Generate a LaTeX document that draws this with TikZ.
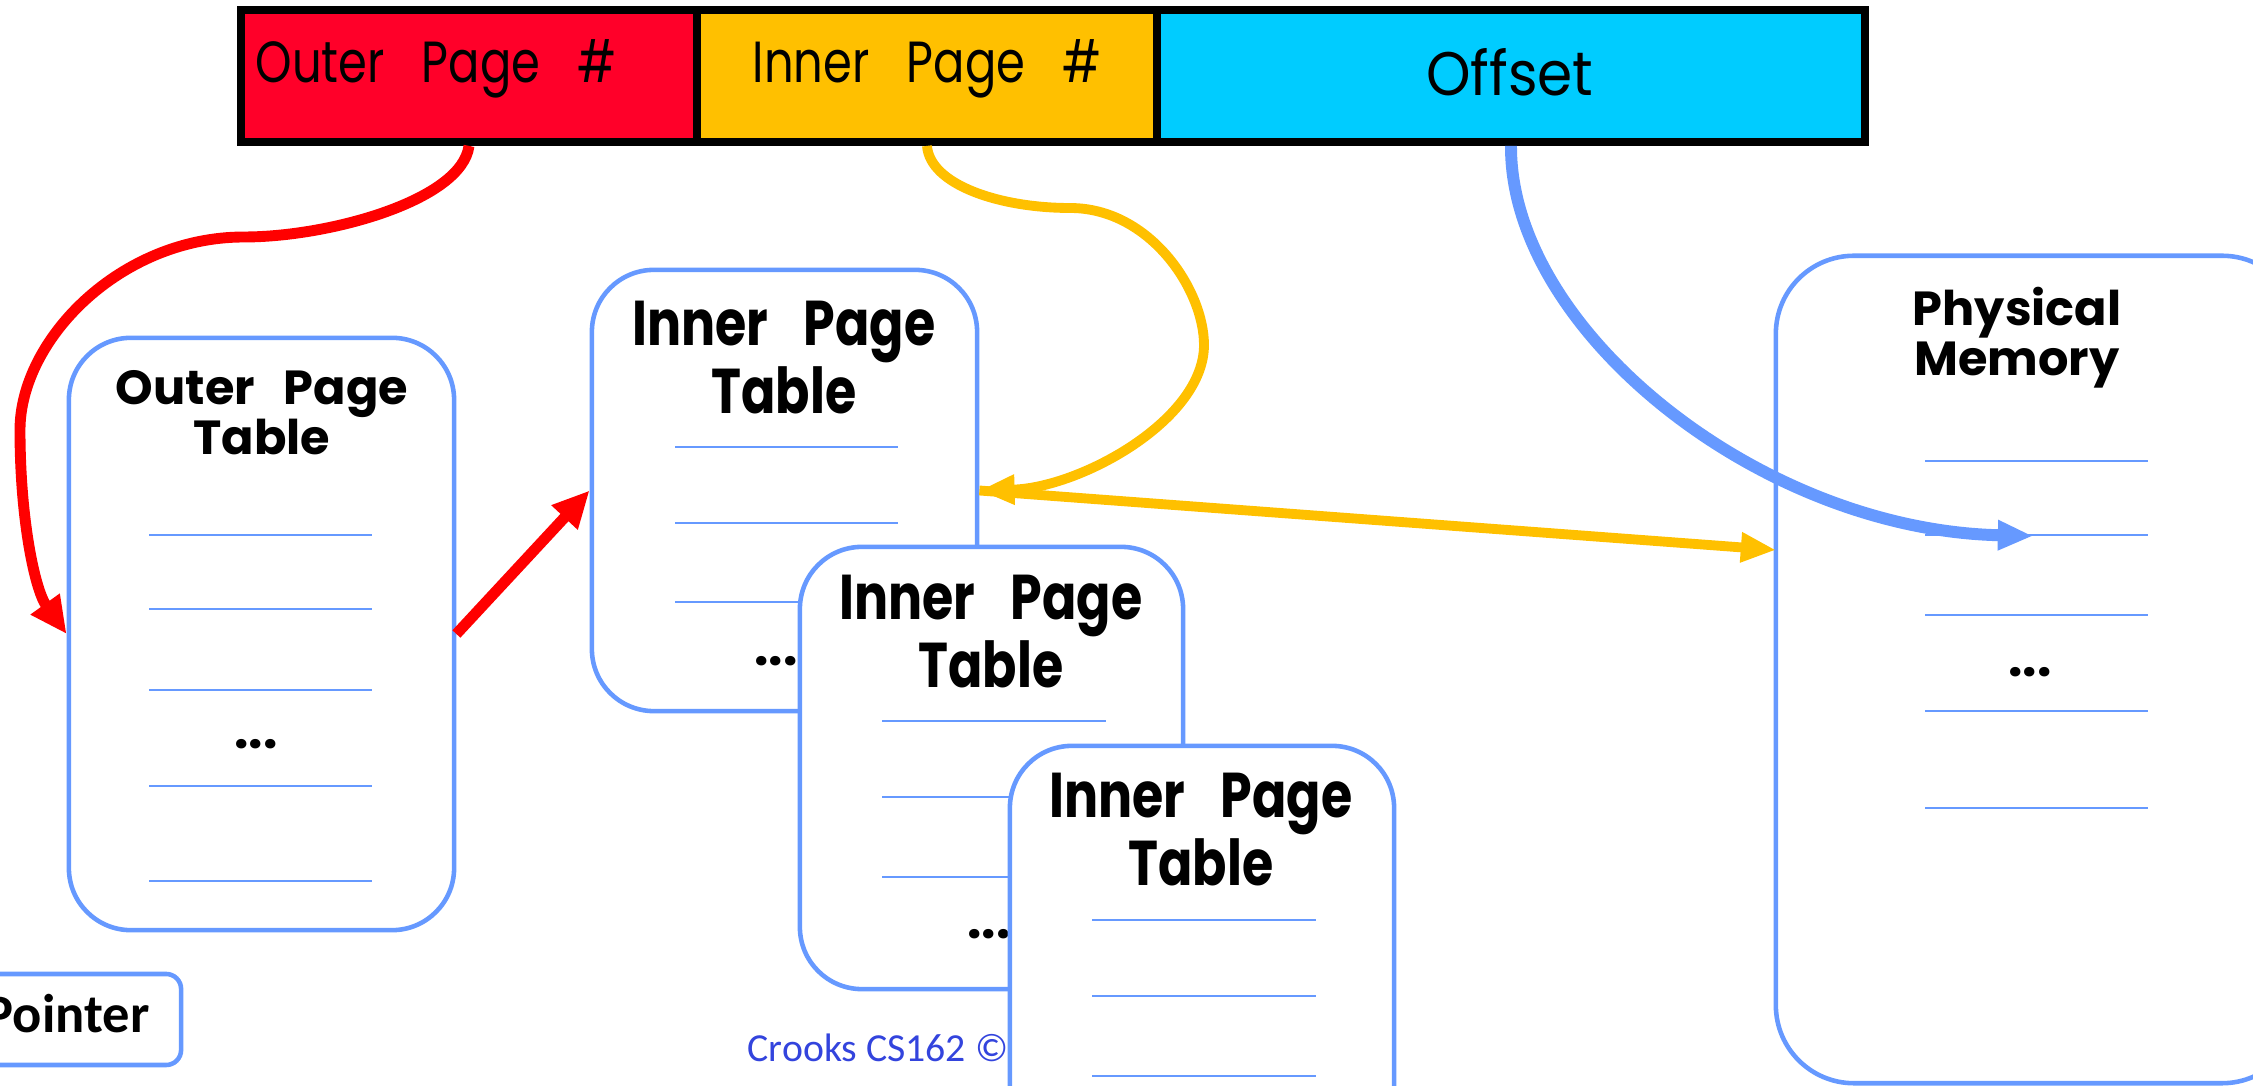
\documentclass[tikz,border=0pt]{standalone}
\usepackage{fontspec}
\setmainfont{Poppins}
\newfontfamily\calib{Carlito}
\usetikzlibrary{arrows.meta,calc}
\definecolor{cred}{HTML}{FF0029}
\definecolor{cyel}{HTML}{FFC000}
\definecolor{ccyan}{HTML}{00CCFF}
\definecolor{cblue}{HTML}{6699FF}
\definecolor{cfoot}{HTML}{3344DD}
\newcommand\cond[2][0.75]{\scalebox{#1}[1]{#2}}
\begin{document}
\begin{tikzpicture}[x=0.01cm,y=-0.01cm,
  cell/.style={draw=black,line width=2.2pt,minimum height=1.32cm,inner sep=0pt},
  celltxt/.style={font=\fontsize{16.5}{18}\selectfont,inner sep=0pt},
  tbl/.style={draw=cblue,line width=1.3pt,fill=white,rounded corners=0.62cm,inner sep=0pt},
  row/.style={draw=cblue,line width=0.6pt},
  ttl/.style={font=\fontsize{13.6}{14.3}\selectfont\bfseries,align=center,inner sep=0pt},
  ittl/.style={font=\fontsize{18}{15.6}\selectfont\bfseries,align=center,inner sep=0pt},
  dots/.style={font=\fontsize{14.5}{16}\selectfont\bfseries,inner sep=0pt},
  redarr/.style={draw=red,line width=3.1pt,-{Triangle[length=10.5pt,width=9.5pt]}},
  yelarr/.style={draw=cyel,line width=2.8pt,-{Triangle[length=10pt,width=8pt]}},
  bluarr/.style={draw=cblue,line width=3.4pt,-{Triangle[length=10pt,width=8pt]}}
]
\useasboundingbox (0,0) rectangle (2253,1086);
\clip (0,0) rectangle (2253,1086);

% address bar
\node[cell,fill=cred,minimum width=4.56cm] (outerpg) at (469,76) {};
\node[cell,fill=cyel,minimum width=4.60cm] (innerpg) at (927,76) {};
\node[cell,fill=ccyan,minimum width=7.08cm] (offset) at (1511,76) {};
\node[celltxt] (outerpgt) at (436,69) {\cond[0.8]{Outer\hspace{0.8em}Page\hspace{0.8em}\#}};
\node[celltxt] (innerpgt) at (927,69) {\cond[0.8]{Inner\hspace{0.8em}Page\hspace{0.8em}\#}};
\node[celltxt,font=\fontsize{17.5}{19}\selectfont] (offsett) at (1510,72) {\cond[0.92]{Offset}};

% footer
\node[anchor=base west,inner sep=0pt,text=cfoot,font=\calib\fontsize{11.3}{13}\selectfont] (foot) at (747,1062) {Crooks CS162 © UCB};

% outer page table
\node[tbl,minimum width=3.85cm,minimum height=5.92cm] (outer) at (261.5,634) {};
\node[ttl] (outert) at (262,413) {Outer\hspace{0.6em}Page\\Table};
\foreach \yy in {535,609,690,786,881} \draw[row] (149,\yy) -- (372,\yy);
\node[dots] (outerd) at (256,744) {...};

% inner page table 1
\node[tbl,minimum width=3.85cm,minimum height=4.41cm] (inner1) at (784.5,490.5) {};
\node[ittl] (inner1t) at (784,357.5) {\cond[0.8]{Inner\hspace{0.7em}Page}\\\cond[0.8]{Table}};
\foreach \yy in {447,523,602} \draw[row] (675,\yy) -- (898,\yy);
\node[dots] (inner1d) at (776,661) {...};

% inner page table 2
\node[tbl,minimum width=3.83cm,minimum height=4.42cm] (inner2) at (991.5,768) {};
\node[ittl] (inner2t) at (991,631.5) {\cond[0.8]{Inner\hspace{0.7em}Page}\\\cond[0.8]{Table}};
\foreach \yy in {721,797,877} \draw[row] (882,\yy) -- (1106,\yy);
\node[dots] (inner2d) at (989,934) {...};

% inner page table 3
\node[tbl,minimum width=3.84cm,minimum height=4.42cm] (inner3) at (1202,967) {};
\node[ittl] (inner3t) at (1201,829.5) {\cond[0.8]{Inner\hspace{0.7em}Page}\\\cond[0.8]{Table}};
\foreach \yy in {920,996,1076} \draw[row] (1092,\yy) -- (1316,\yy);

% physical memory
\node[tbl,rounded corners=0.78cm,minimum width=5.24cm,minimum height=8.27cm] (phys) at (2038,669.5) {};
\node[ttl] (physt) at (2017,338) {Physical\\Memory};
\foreach \yy in {461,535,615,711,808} \draw[row] (1925,\yy) -- (2148,\yy);
\node[dots] (physd) at (2030,672) {...};

% pointer
\node[tbl,rounded corners=0.15cm,minimum width=3.31cm,minimum height=0.91cm] (ptr) at (15.5,1019.5) {};
\node[inner sep=0pt,font=\calib\fontsize{15.5}{18}\selectfont\bfseries] (ptrt) at (67,1014) {Pointer};

% connectors
\coordinate (physin) at (1776,550);
\coordinate (memslot) at (2033,536);
\draw[redarr] (outerpg.south) .. controls (462,200) and (330,237) .. (244,237)
   .. controls (120,237) and (20,340) .. (20,430)
   .. controls (20,520) and (35,590) .. (outer.west);
\draw[redarr] (outer.east) -- (inner1.west);
\draw[yelarr] (innerpg.south) .. controls (930,185) and (1000,208) .. (1070,208)
   .. controls (1150,208) and (1204,290) .. (1204,345)
   .. controls (1204,420) and (1080,488) .. (inner1.east);
\draw[yelarr] (inner1.east) -- (physin);
\draw[bluarr] (offset.south) .. controls (1510,330) and (1760,530) .. (memslot);
\end{tikzpicture}
\end{document}
